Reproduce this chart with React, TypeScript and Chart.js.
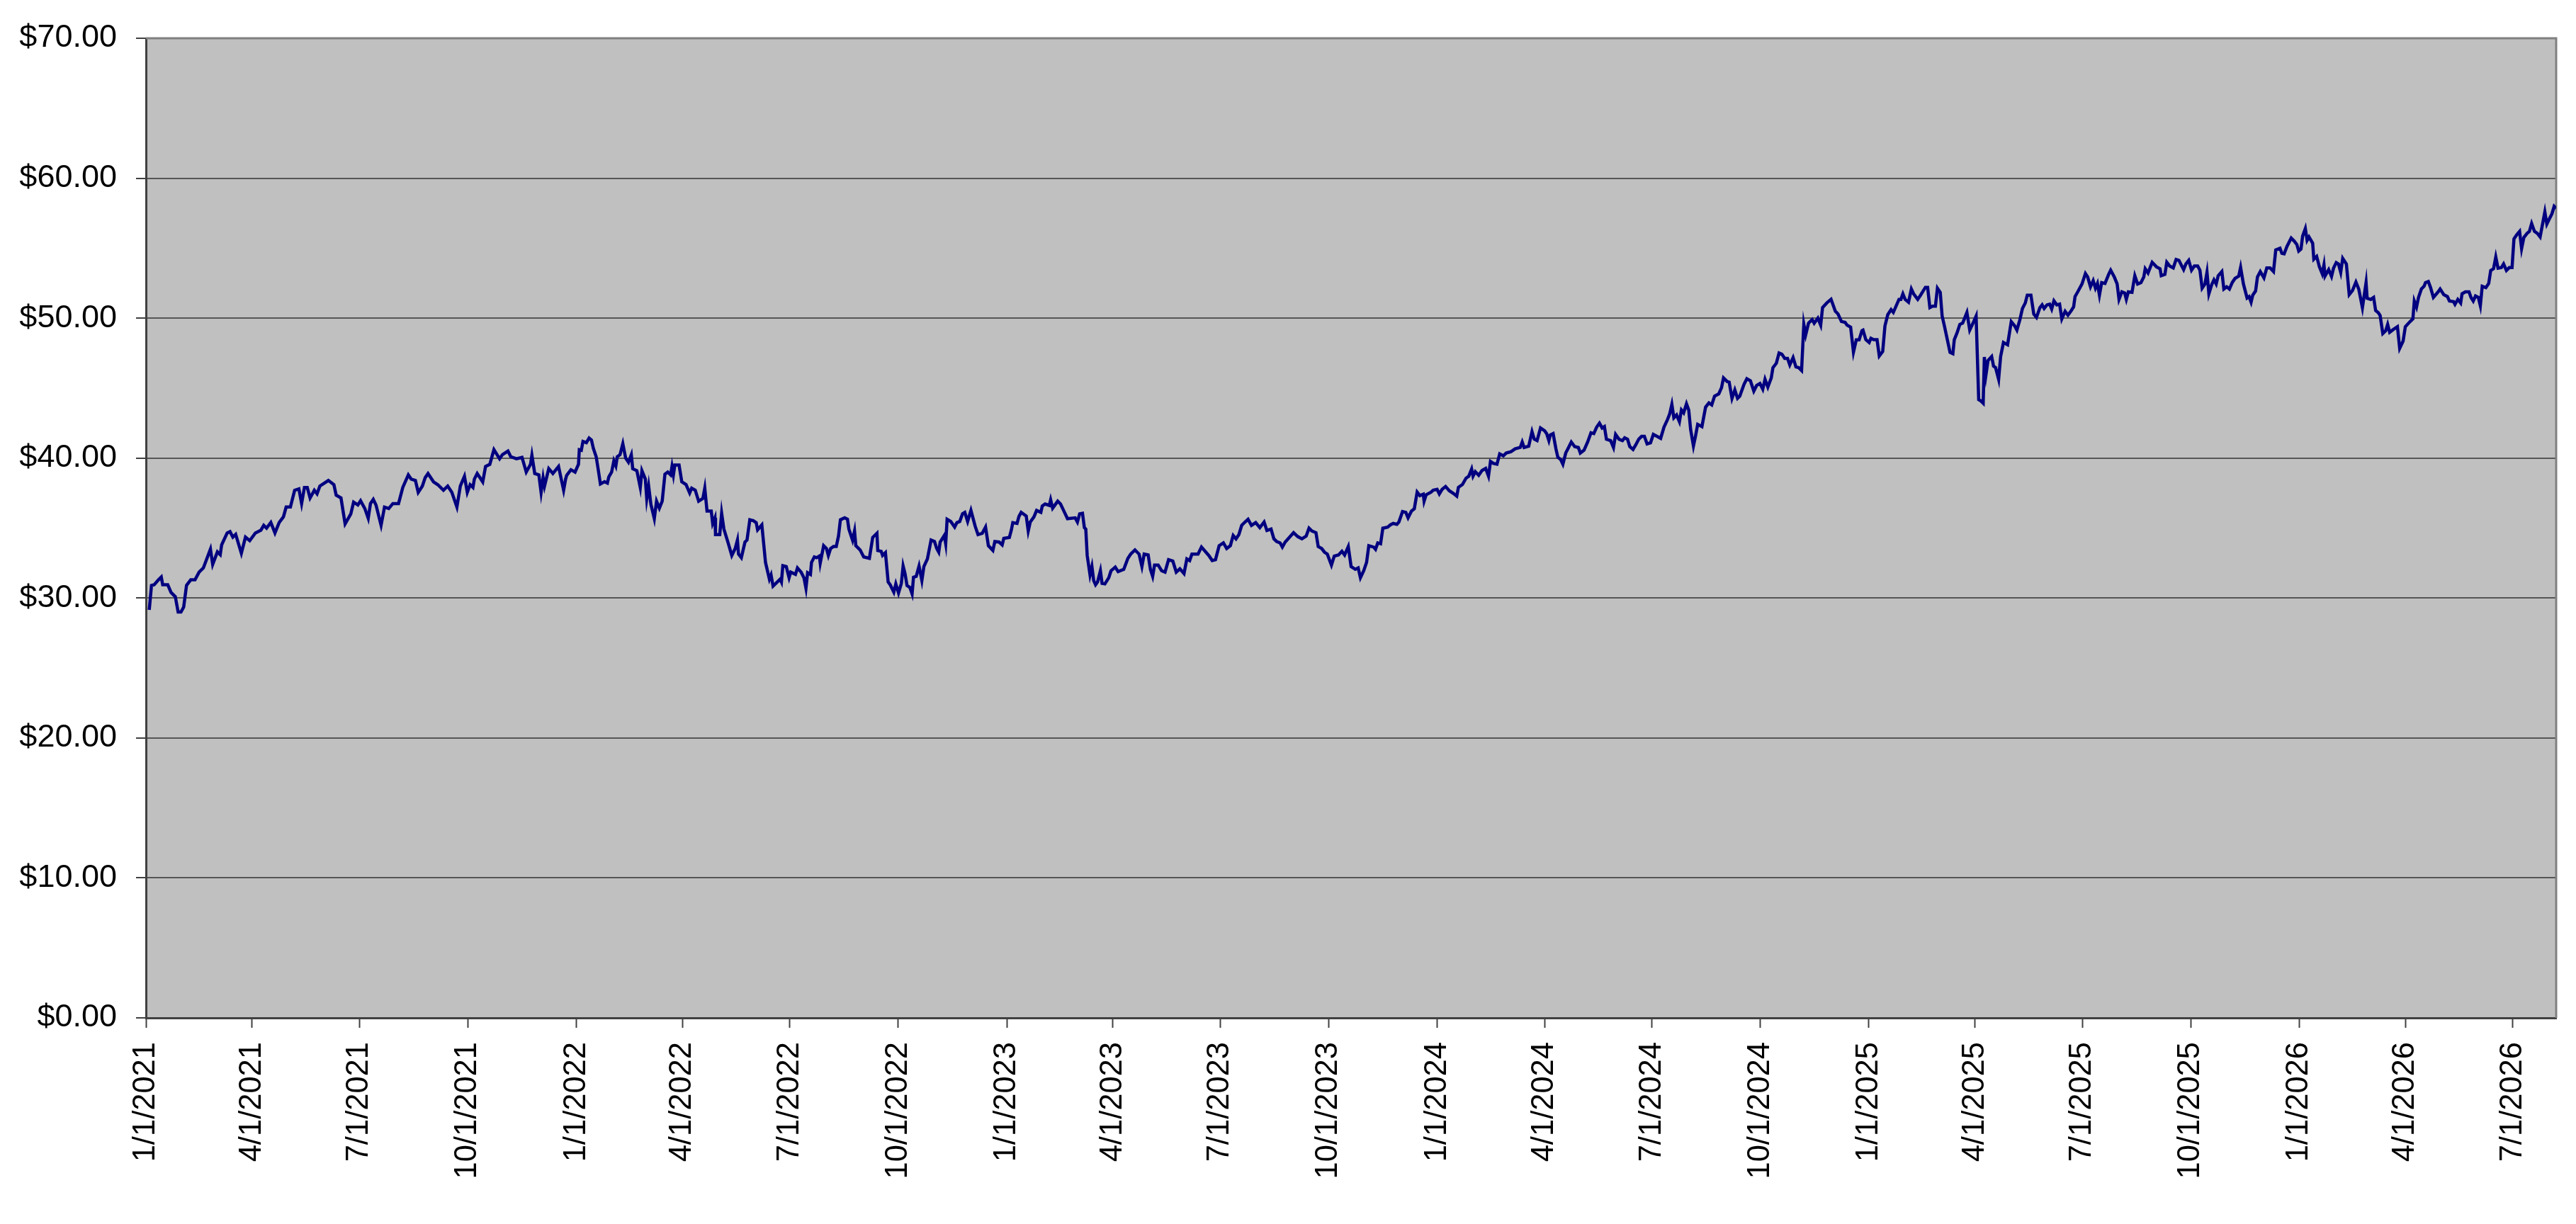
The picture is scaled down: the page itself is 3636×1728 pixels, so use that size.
import React, { useEffect, useRef } from "react";
import { Chart, registerables } from "chart.js";

Chart.register(...registerables);

// x = days since 1/1/2021, y = price in dollars
const prices2021: [number, number][] = [
  [2.8, 29.15], [4.7, 30.9], [7.0, 30.95], [10.6, 31.3], [13.0, 31.5], [14.2, 30.95], [18.5, 30.95], [21.3, 30.4],
  [24.9, 30.1], [27.3, 29.0], [29.7, 29.0], [32.0, 29.35], [34.4, 30.9], [38.0, 31.3], [41.6, 31.3], [45.1, 31.85],
  [48.7, 32.15], [54.7, 33.5], [56.6, 32.4], [60.6, 33.3], [63.0, 33.1], [64.2, 33.8], [68.9, 34.65], [71.3, 34.75],
  [73.7, 34.35], [76.1, 34.55], [80.9, 33.2], [84.4, 34.35], [88.0, 34.1], [92.8, 34.65], [97.5, 34.85], [99.9, 35.2],
  [102.3, 35.0], [105.9, 35.4], [109.4, 34.65], [113.0, 35.4], [116.6, 35.8], [118.9, 36.5], [122.5, 36.5], [126.1, 37.7],
  [129.7, 37.8], [132.0, 36.75], [134.4, 37.9], [136.8, 37.9], [139.2, 37.15], [142.8, 37.7], [145.1, 37.45], [147.5, 38.0],
  [154.7, 38.4], [159.4, 38.1], [161.3, 37.35], [165.4, 37.15], [168.9, 35.3], [173.7, 36.0], [176.1, 36.85], [179.7, 36.65],
  [182.0, 36.95], [185.6, 36.4], [188.5, 35.7], [190.4, 36.75], [192.8, 37.05], [195.1, 36.65], [199.4, 35.2], [202.3, 36.5],
  [205.9, 36.4], [209.4, 36.75], [214.2, 36.75], [217.8, 37.9], [222.5, 38.8], [224.9, 38.5], [228.5, 38.4], [230.9, 37.55],
  [234.4, 38.0], [236.8, 38.6], [239.2, 38.9], [243.9, 38.3], [247.5, 38.1], [252.3, 37.7], [255.9, 38.0], [259.4, 37.55],
  [263.7, 36.5], [266.6, 38.0], [270.1, 38.7], [272.5, 37.55], [274.9, 38.1], [277.3, 37.9], [278.5, 38.5], [280.9, 38.9],
  [285.6, 38.3], [288.0, 39.4], [291.6, 39.55], [295.1, 40.6], [299.9, 39.95], [302.3, 40.25], [307.0, 40.5], [309.4, 40.1],
  [314.2, 39.95], [318.9, 40.05], [322.5, 39.0], [326.1, 39.55], [327.3, 40.2], [329.7, 38.9], [333.2, 38.8], [335.1, 37.55],
  [336.8, 38.6], [338.0, 38.0], [341.6, 39.25], [345.1, 38.9], [349.9, 39.4], [354.2, 37.7], [355.9, 38.5],
];

const prices2022: [number, number][] = [
  [356.8, 38.77], [360.4, 39.17], [363.9, 39.0], [366.8, 39.56], [367.5, 40.6], [369.2, 40.56], [370.6, 41.19], [373.5, 41.1],
  [375.8, 41.43], [377.8, 41.29], [379.4, 40.7], [381.8, 40.1], [383.5, 39.2], [385.4, 38.15], [388.9, 38.31], [391.3, 38.21],
  [392.5, 38.65], [394.9, 39.0], [396.8, 39.8], [398.5, 39.44], [399.7, 40.1], [402.0, 40.24], [404.4, 41.03], [406.8, 40.0],
  [409.2, 39.7], [411.6, 40.24], [412.8, 39.24], [416.3, 39.1], [419.2, 37.9], [420.6, 39.1], [423.5, 38.5], [424.7, 37.1],
  [426.3, 38.0], [428.2, 36.7], [431.1, 35.67], [433.0, 36.92], [435.4, 36.42], [437.8, 36.92], [440.1, 38.85], [442.5, 39.0],
  [444.9, 38.8], [446.1, 39.4], [447.3, 38.8], [448.5, 39.5], [452.1, 39.5], [454.4, 38.31], [458.0, 38.11], [461.1, 37.51],
  [462.8, 37.85], [465.8, 37.71], [468.7, 36.92], [472.3, 37.12], [473.9, 37.85], [475.8, 36.22], [479.4, 36.22], [480.6, 35.33],
  [482.5, 35.73], [483.0, 34.53], [486.6, 34.53], [488.2, 36.06], [490.1, 34.93], [493.7, 33.94], [496.8, 33.04], [499.7, 33.54],
  [501.6, 34.14], [502.5, 33.14], [504.9, 32.88], [508.0, 34.0], [509.7, 34.14], [512.1, 35.59], [515.1, 35.53], [517.5, 35.39],
  [518.7, 34.87], [522.3, 35.23], [525.4, 32.54], [528.7, 31.35], [530.1, 31.65], [531.8, 30.85], [535.4, 31.15], [537.8, 31.35],
  [538.9, 31.15], [540.1, 32.31], [543.0, 32.25], [545.4, 31.45], [546.8, 31.85], [550.8, 31.69], [552.5, 32.15], [555.6, 31.85],
  [558.0, 31.45], [559.7, 30.7], [561.1, 31.81], [563.5, 31.69], [564.4, 32.54], [566.8, 32.94], [568.7, 32.88], [571.1, 33.0],
  [571.8, 32.49], [574.7, 33.74], [577.1, 33.54], [578.7, 33.04], [580.6, 33.54], [583.0, 33.68], [585.4, 33.68], [587.3, 34.43],
  [588.9, 35.59], [592.5, 35.73], [594.9, 35.63], [596.1, 34.93], [599.2, 34.14], [600.9, 34.79], [602.0, 33.74], [605.6, 33.44],
  [608.7, 32.94], [613.5, 32.84], [616.3, 34.33], [619.9, 34.63], [620.6, 33.4], [623.5, 33.34], [624.7, 33.04], [627.1, 33.24],
  [629.4, 31.15], [631.1, 30.95], [634.2, 30.42], [635.9, 31.01], [638.2, 30.36], [640.6, 31.05], [642.1, 32.29], [643.7, 31.75],
  [645.4, 30.89], [647.8, 30.76], [649.7, 30.3], [650.9, 31.49], [653.2, 31.55], [655.6, 32.29], [658.0, 31.25], [659.7, 32.25],
  [662.7, 32.8], [665.8, 34.14], [668.7, 34.04], [670.6, 33.54], [672.3, 33.28], [673.5, 34.0], [677.0, 34.47], [678.2, 33.88],
  [679.4, 35.63], [682.5, 35.47], [685.8, 35.07], [687.7, 35.39], [690.1, 35.47], [692.5, 36.02], [694.4, 36.12], [696.8, 35.47],
  [699.6, 36.26], [703.2, 35.13], [705.6, 34.53], [709.2, 34.63], [712.0, 35.07], [714.4, 33.74], [718.2, 33.4], [719.9, 34.04],
  [723.5, 34.0],
];

const prices2023: [number, number][] = [
  [726.1, 33.8], [727.5, 34.27], [732.2, 34.33], [733.9, 34.87], [735.1, 35.39], [738.7, 35.33], [740.3, 35.83], [742.2, 36.12],
  [746.5, 35.86], [748.2, 34.79], [749.9, 35.43], [753.0, 35.79], [755.3, 36.26], [758.9, 36.12], [760.1, 36.58], [762.5, 36.72],
  [766.1, 36.62], [767.2, 37.02], [768.9, 36.42], [773.2, 36.92], [775.6, 36.72], [778.4, 36.22], [781.5, 35.67], [788.0, 35.73],
  [789.9, 35.43], [791.8, 36.02], [794.2, 36.06], [795.8, 35.03], [797.0, 34.93], [798.2, 33.04], [800.6, 31.65], [802.2, 32.25],
  [803.7, 31.25], [805.3, 30.95], [807.0, 31.15], [809.4, 31.95], [810.8, 31.05], [813.2, 31.01], [816.5, 31.45], [818.4, 31.95],
  [822.0, 32.21], [824.4, 31.89], [829.2, 32.05], [832.7, 32.84], [835.1, 33.14], [838.7, 33.44], [842.2, 33.14], [844.6, 32.25],
  [846.5, 33.14], [849.9, 33.08], [851.8, 32.05], [853.7, 31.55], [855.3, 32.35], [858.4, 32.35], [861.3, 31.95], [864.2, 31.85],
  [867.2, 32.74], [870.8, 32.64], [873.7, 31.85], [876.8, 32.09], [880.3, 31.75], [882.7, 32.8], [885.1, 32.68], [887.0, 33.14],
  [892.2, 33.14], [895.1, 33.64], [898.2, 33.34], [901.3, 33.04], [904.2, 32.68], [907.0, 32.74], [910.1, 33.74], [913.7, 33.94],
  [916.5, 33.54], [919.6, 33.74], [922.0, 34.47], [924.4, 34.23], [926.8, 34.53], [929.2, 35.19], [931.5, 35.39], [934.6, 35.63],
  [937.5, 35.19], [941.1, 35.39], [944.6, 35.03], [948.2, 35.43], [950.6, 34.83], [954.1, 34.93], [956.5, 34.23], [958.9, 34.04],
  [961.8, 33.94], [963.7, 33.64], [966.1, 34.0], [969.6, 34.33], [973.2, 34.67], [976.8, 34.39], [980.3, 34.23], [983.9, 34.43],
  [986.3, 34.99], [988.7, 34.79], [992.2, 34.67], [994.1, 33.68], [997.0, 33.54], [999.4, 33.28], [1001.8, 33.14], [1005.3, 32.35],
  [1007.7, 33.0], [1011.3, 33.08], [1014.2, 33.34], [1016.5, 33.08], [1019.6, 33.68], [1022.0, 32.25], [1025.6, 32.05], [1028.0, 32.15],
  [1029.9, 31.45], [1032.7, 31.95], [1035.1, 32.54], [1037.0, 33.74], [1041.1, 33.64], [1042.7, 33.48], [1044.6, 33.94], [1047.0, 33.88],
  [1048.9, 34.99], [1053.0, 35.07], [1055.3, 35.23], [1057.7, 35.33], [1060.8, 35.27], [1062.5, 35.43], [1065.6, 36.18], [1068.4, 36.12],
  [1070.3, 35.73], [1073.2, 36.22], [1075.6, 36.38], [1078.0, 37.57], [1080.3, 37.32], [1083.2, 37.42], [1083.9, 36.92], [1085.6, 37.38],
  [1089.9, 37.57],
];

const prices2024: [number, number][] = [
  [1091.6, 37.71], [1094.9, 37.77], [1096.8, 37.44], [1099.2, 37.77], [1102.1, 37.97], [1105.2, 37.67], [1108.7, 37.48], [1111.6, 37.28],
  [1113.0, 37.91], [1116.4, 38.11], [1119.5, 38.57], [1121.8, 38.71], [1124.2, 39.22], [1125.4, 38.71], [1127.3, 39.03], [1130.2, 38.77],
  [1133.0, 39.11], [1136.1, 39.26], [1138.5, 38.71], [1140.2, 39.76], [1142.6, 39.62], [1145.7, 39.56], [1148.0, 40.3], [1151.1, 40.16],
  [1153.5, 40.36], [1157.6, 40.46], [1161.1, 40.66], [1165.4, 40.76], [1167.1, 41.15], [1168.7, 40.76], [1172.6, 40.85], [1175.4, 41.89],
  [1177.3, 41.35], [1179.7, 41.25], [1182.6, 42.15], [1186.1, 41.95], [1187.8, 41.75], [1189.7, 41.25], [1190.9, 41.65], [1193.3, 41.75],
  [1195.7, 40.66], [1197.3, 40.06], [1199.7, 39.9], [1201.6, 39.56], [1204.0, 40.36], [1206.4, 40.76], [1208.7, 41.15], [1211.6, 40.82],
  [1214.7, 40.76], [1216.4, 40.36], [1219.5, 40.56], [1222.6, 41.15], [1225.4, 41.81], [1227.8, 41.75], [1230.2, 42.21], [1232.6, 42.49],
  [1234.9, 42.15], [1236.8, 42.25], [1238.5, 41.35], [1242.1, 41.25], [1244.5, 40.76], [1246.3, 41.69], [1249.2, 41.35], [1252.1, 41.25],
  [1254.0, 41.45], [1256.4, 41.35], [1258.3, 40.82], [1261.1, 40.62], [1263.5, 40.96], [1265.9, 41.35], [1268.3, 41.55], [1270.7, 41.55],
  [1273.0, 41.01], [1275.9, 41.09], [1278.3, 41.69], [1281.4, 41.55], [1284.5, 41.41], [1287.3, 42.21], [1290.2, 42.74], [1292.1, 43.14],
  [1294.0, 43.84], [1295.7, 42.88], [1298.0, 43.08], [1300.4, 42.6], [1302.1, 43.44], [1304.0, 43.24], [1306.4, 43.88], [1308.3, 43.44],
  [1309.9, 42.05], [1312.3, 40.86], [1314.0, 41.55], [1315.9, 42.41], [1319.5, 42.25], [1322.6, 43.64], [1325.4, 43.94], [1327.8, 43.8],
  [1330.2, 44.43], [1333.8, 44.59], [1336.1, 45.03], [1337.8, 45.73], [1340.9, 45.47], [1342.6, 45.43], [1345.0, 44.27], [1347.4, 44.87],
  [1349.7, 44.27], [1351.6, 44.43], [1355.2, 45.27], [1357.6, 45.67], [1360.6, 45.53], [1363.5, 44.79], [1365.9, 45.19], [1368.7, 45.33],
  [1371.1, 44.93], [1373.0, 45.63], [1375.4, 45.07], [1378.3, 45.73], [1379.7, 46.46], [1382.6, 46.78], [1384.9, 47.51], [1387.3, 47.42],
  [1389.7, 47.12], [1392.1, 47.12], [1394.0, 46.66], [1396.8, 47.18], [1399.2, 46.52], [1401.6, 46.46], [1404.0, 46.26], [1405.9, 49.56],
  [1407.5, 48.81], [1409.9, 49.64], [1413.0, 49.9], [1414.7, 49.64], [1417.8, 50.0], [1420.2, 49.5], [1421.8, 50.76], [1425.4, 51.09],
  [1429.0, 51.35], [1432.6, 50.5], [1434.9, 50.3], [1437.8, 49.76], [1440.9, 49.7], [1442.6, 49.5], [1445.6, 49.36], [1448.0, 47.57],
  [1450.4, 48.45], [1452.8, 48.45], [1455.2, 49.11],
];

const prices2025: [number, number][] = [
  [1456.1, 49.15], [1458.5, 48.46], [1461.3, 48.26], [1462.8, 48.56], [1465.1, 48.46], [1468.0, 48.46], [1469.9, 47.3], [1472.8, 47.62],
  [1474.7, 49.45], [1477.1, 50.25], [1479.9, 50.61], [1481.8, 50.41], [1486.6, 51.34], [1488.2, 51.34], [1489.9, 51.74], [1491.8, 51.34],
  [1494.7, 51.14], [1497.1, 52.08], [1499.0, 51.74], [1502.5, 51.34], [1504.9, 51.64], [1509.0, 52.2], [1510.9, 52.2], [1512.8, 50.75],
  [1515.1, 50.85], [1517.5, 50.85], [1519.2, 52.14], [1521.6, 51.84], [1523.2, 50.15], [1525.1, 49.45], [1529.9, 47.56], [1532.3, 47.46],
  [1533.5, 48.46], [1535.9, 48.96], [1538.2, 49.55], [1540.6, 49.65], [1544.2, 50.41], [1546.6, 49.15], [1549.4, 49.65], [1552.0, 50.15],
  [1554.2, 44.18], [1556.1, 44.08], [1558.0, 43.92], [1559.0, 47.22], [1560.4, 45.97], [1562.1, 46.97], [1565.2, 47.26], [1566.8, 46.57],
  [1568.5, 46.47], [1571.1, 45.63], [1572.8, 47.26], [1575.2, 48.26], [1578.7, 48.1], [1581.8, 49.75], [1584.7, 49.45], [1586.6, 49.15],
  [1589.0, 49.85], [1591.3, 50.69], [1593.7, 51.08], [1595.4, 51.64], [1598.5, 51.64], [1600.9, 50.29], [1603.2, 50.05], [1606.1, 50.75],
  [1608.0, 50.95], [1609.7, 50.69], [1612.1, 50.95], [1614.4, 51.0], [1616.1, 50.65], [1618.0, 51.24], [1620.4, 50.95], [1622.8, 51.0],
  [1624.7, 49.95], [1627.5, 50.49], [1629.9, 50.21], [1632.8, 50.55], [1634.7, 50.81], [1635.9, 51.54], [1638.2, 51.88], [1641.8, 52.44],
  [1644.7, 53.19], [1646.6, 52.94], [1649.0, 52.24], [1651.3, 52.68], [1653.2, 52.14], [1654.9, 52.48], [1656.6, 51.64], [1658.5, 52.54],
  [1661.3, 52.48], [1664.4, 53.13], [1666.1, 53.43], [1669.2, 52.94], [1671.6, 52.44], [1673.2, 51.34], [1675.6, 51.88], [1678.0, 51.8],
  [1679.4, 51.34], [1681.1, 51.88], [1684.2, 51.84], [1686.6, 53.03], [1689.0, 52.44], [1691.8, 52.54], [1694.2, 52.94], [1695.4, 53.53],
  [1697.8, 53.23], [1701.3, 53.99], [1704.9, 53.67], [1708.0, 53.53], [1709.0, 53.03], [1712.1, 53.13], [1713.7, 53.99], [1716.1, 53.73],
  [1719.2, 53.59], [1721.6, 54.19], [1724.0, 54.13], [1726.4, 53.73], [1728.0, 53.47], [1729.9, 53.87], [1732.3, 54.13], [1734.7, 53.43],
  [1737.1, 53.73], [1739.9, 53.73], [1741.8, 53.43], [1743.7, 52.14], [1746.1, 52.44], [1747.8, 53.27], [1749.4, 51.74], [1751.8, 52.4],
  [1753.7, 52.74], [1755.6, 52.44], [1757.3, 53.03], [1760.4, 53.33], [1762.1, 52.08], [1764.5, 52.24], [1766.8, 52.08], [1769.2, 52.54],
  [1771.6, 52.84], [1774.7, 53.0], [1776.3, 53.63], [1778.7, 52.44], [1781.8, 51.44], [1783.5, 51.54], [1785.2, 51.14], [1786.6, 51.64],
  [1789.0, 51.94], [1790.6, 52.94], [1793.0, 53.33], [1796.1, 52.88], [1798.5, 53.59], [1801.3, 53.59], [1804.2, 53.33], [1806.1, 54.87],
  [1809.7, 54.99], [1811.3, 54.63], [1813.2, 54.59], [1815.6, 55.12], [1819.2, 55.72], [1821.6, 55.52], [1824.0, 55.26], [1825.6, 54.79],
  [1827.5, 54.93],
];

const prices2026: [number, number][] = [
  [1828.9, 55.86], [1831.2, 56.4], [1832.7, 55.56], [1834.3, 55.8], [1837.4, 55.36], [1838.4, 54.21], [1840.8, 54.41], [1843.1, 53.67],
  [1845.5, 53.17], [1847.0, 53.81], [1847.9, 53.01], [1851.0, 53.47], [1853.4, 52.98], [1855.1, 53.57], [1857.4, 53.97], [1859.3, 53.87],
  [1861.2, 53.27], [1862.9, 54.27], [1866.0, 53.87], [1868.4, 51.68], [1871.2, 51.98], [1874.1, 52.58], [1876.5, 52.08], [1879.6, 50.75],
  [1882.7, 52.54], [1883.6, 51.42], [1886.7, 51.34], [1889.1, 51.48], [1890.8, 50.55], [1893.1, 50.39], [1894.6, 50.19], [1896.9, 48.9],
  [1899.3, 49.09], [1901.0, 49.55], [1902.7, 48.99], [1905.8, 49.19], [1909.3, 49.39], [1911.2, 47.84], [1914.1, 48.36], [1916.0, 49.39],
  [1919.3, 49.69], [1922.4, 49.95], [1923.6, 51.22], [1925.5, 50.79], [1927.2, 51.48], [1929.6, 52.08], [1931.9, 52.28], [1933.1, 52.54],
  [1935.5, 52.62], [1937.4, 52.18], [1939.8, 51.48], [1943.8, 51.88], [1945.5, 52.08], [1948.6, 51.68], [1951.7, 51.54], [1953.4, 51.22],
  [1956.9, 51.18], [1958.1, 50.99], [1960.5, 51.34], [1962.9, 51.08], [1964.1, 51.74], [1966.9, 51.88], [1970.0, 51.88], [1971.7, 51.48],
  [1973.6, 51.22], [1975.5, 51.58], [1977.9, 51.48], [1979.6, 50.89], [1981.2, 52.28], [1984.3, 52.18], [1986.7, 52.48], [1988.4, 53.41],
  [1990.8, 53.53], [1992.7, 54.37], [1994.6, 53.57], [1997.4, 53.61], [1999.3, 53.87], [2001.7, 53.41], [2004.1, 53.61], [2006.5, 53.61],
  [2008.1, 55.66], [2010.5, 55.96], [2012.9, 56.2], [2014.6, 54.97], [2016.5, 55.76], [2019.3, 56.06], [2021.2, 56.2], [2023.1, 56.76],
  [2025.5, 56.2], [2027.9, 56.06], [2030.3, 55.8], [2032.0, 56.56], [2034.3, 57.59], [2036.0, 56.72], [2037.9, 57.05], [2040.3, 57.45],
  [2042.2, 57.99], [2043.9, 57.85],
];

const tickLabels: string[] = [
  "1/1/2021", "4/1/2021", "7/1/2021", "10/1/2021",
  "1/1/2022", "4/1/2022", "7/1/2022", "10/1/2022",
  "1/1/2023", "4/1/2023", "7/1/2023", "10/1/2023",
  "1/1/2024", "4/1/2024", "7/1/2024", "10/1/2024",
  "1/1/2025", "4/1/2025", "7/1/2025", "10/1/2025",
  "1/1/2026", "4/1/2026", "7/1/2026",
];

const yMin = 0;
const yMax = 70;
const yStep = 10;

const FONT = '"Liberation Sans", Arial, Helvetica, sans-serif';

function labelToDay(label: string): number {
  const [m, d, y] = label.split("/").map(Number);
  return Math.round((Date.UTC(y, m - 1, d) - Date.UTC(2021, 0, 1)) / 86400000);
}

export default function App() {
  const ref = useRef<HTMLCanvasElement | null>(null);

  useEffect(() => {
    const canvas = ref.current;
    if (!canvas) return;
    const all = [...prices2021, ...prices2022, ...prices2023, ...prices2024, ...prices2025, ...prices2026];
    const points = all.map(([x, y]) => ({ x, y }));
    const tickDays = tickLabels.map(labelToDay);
    const lastDay = all[all.length - 1][0];

    const plotBg = {
      id: "plotBg",
      beforeDraw(chart: any) {
        const { ctx, chartArea } = chart;
        ctx.save();
        ctx.fillStyle = "#C0C0C0";
        ctx.fillRect(chartArea.left, chartArea.top, chartArea.right - chartArea.left, chartArea.bottom - chartArea.top);
        ctx.restore();
      },
      beforeDatasetsDraw(chart: any) {
        const { ctx, chartArea } = chart;
        ctx.save();
        ctx.strokeStyle = "#808080";
        ctx.lineWidth = 3;
        ctx.beginPath();
        ctx.moveTo(chartArea.left, chartArea.top);
        ctx.lineTo(chartArea.right, chartArea.top);
        ctx.lineTo(chartArea.right, chartArea.bottom);
        ctx.stroke();
        ctx.restore();
      },
    };

    const chart = new Chart(canvas, {
      type: "line",
      data: {
        datasets: [
          {
            data: points,
            borderColor: "#000080",
            borderWidth: 4.5,
            pointRadius: 0,
            tension: 0,
            fill: false,
          },
        ],
      },
      options: {
        animation: false,
        responsive: false,
        devicePixelRatio: 1,
        layout: { padding: { top: 44, right: 28, left: 0, bottom: 0 } },
        plugins: { legend: { display: false }, tooltip: { enabled: false } },
        scales: {
          x: {
            type: "linear",
            min: 0,
            max: lastDay,
            afterBuildTicks: (scale: any) => {
              scale.ticks = tickDays.map((v) => ({ value: v }));
            },
            afterFit: (scale: any) => {
              scale.height = 291;
            },
            ticks: {
              autoSkip: false,
              minRotation: 90,
              maxRotation: 90,
              padding: 20,
              color: "#000",
              font: { family: FONT, size: 43.5 },
              callback: (_v: any, i: number) => tickLabels[i],
            },
            grid: {
              drawOnChartArea: false,
              drawTicks: true,
              tickLength: 14,
              tickColor: "#404040",
              tickWidth: 2,
            },
            border: { color: "#404040", width: 3 },
          },
          y: {
            min: yMin,
            max: yMax,
            afterFit: (scale: any) => {
              scale.width = 206;
            },
            ticks: {
              stepSize: yStep,
              padding: 27,
              color: "#000",
              font: { family: FONT, size: 45 },
              callback: (v: any) => "$" + Number(v).toFixed(2),
            },
            grid: {
              color: "#555555",
              lineWidth: 2,
              tickLength: 14,
              tickColor: "#404040",
              tickWidth: 2,
            },
            border: { color: "#404040", width: 3 },
          },
        },
      },
      plugins: [plotBg],
    });

    return () => chart.destroy();
  }, []);

  return (
    <div style={{ position: "absolute", left: 0, top: 0, width: 3636, height: 1728, background: "#fff" }}>
      <canvas ref={ref} width={3636} height={1728} style={{ width: "3636px", height: "1728px", display: "block" }} />
    </div>
  );
}
